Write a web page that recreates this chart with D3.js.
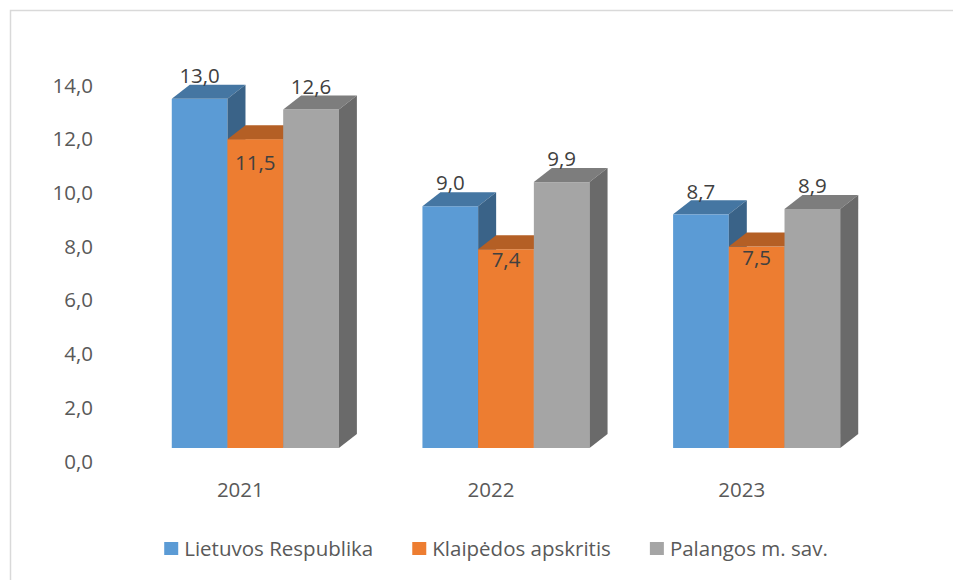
<!DOCTYPE html>
<html>
<head>
<meta charset="utf-8">
<script src="https://cdn.jsdelivr.net/npm/d3@7"></script>
<style>
  html, body { margin: 0; padding: 0; background: #fff; }
  svg { display: block; font-family: "Open Sans", Lato, sans-serif; }
</style>
</head>
<body>
<div class="bar-chart"></div>
<script>
var years = ['2021', '2022', '2023'];
var seriesNames = ['Lietuvos Respublika', 'Klaipėdos apskritis', 'Palangos m. sav.'];
var respublika = [13.0, 9.0, 8.7];
var apskritis = [11.5, 7.4, 7.5];
var palanga = [12.6, 9.9, 8.9];
var yTicks = [0, 2, 4, 6, 8, 10, 12, 14];
var colors = ['#5B9BD5', '#ED7D31', '#A5A5A5'];

(function() {

    var W = 953, H = 580;
    var depth = { x: 18, y: 14 };
    var fs = 20.5;
    var fmt = function(v) { return v.toFixed(1).replace('.', ','); };

    var svg = d3.select('.bar-chart')
        .append('svg')
        .attr('width', W)
        .attr('height', H);

    // chart border
    svg.append('rect')
        .attr('x', 10.5).attr('y', 10.5)
        .attr('width', W + 20).attr('height', H + 20)
        .attr('fill', 'none')
        .attr('stroke', '#d9d9d9')
        .attr('stroke-width', 1.5);

    var x = d3.scaleBand()
        .domain(years)
        .range([130, 882])
        .paddingInner(1 / 3)
        .paddingOuter(1 / 6);

    var xs = d3.scaleBand()
        .domain(seriesNames)
        .range([0, x.bandwidth()]);

    var y = d3.scaleLinear()
        .domain([0, 14])
        .range([448, 72]);

    function shade(c, k) {
        var r = d3.rgb(c);
        return d3.rgb(r.r * k, r.g * k, r.b * k).toString();
    }

    // y axis labels sit a bit below the front face scale (3D floor)
    var yAxis = svg.append('g')
        .attr('transform', 'translate(100,13.5)')
        .call(d3.axisLeft(y).tickValues(yTicks).tickFormat(fmt).tickSize(0).tickPadding(7));
    yAxis.select('.domain').remove();
    yAxis.selectAll('text')
        .attr('font-size', fs)
        .attr('font-family', '"Open Sans", Lato, sans-serif')
        .attr('fill', '#595959');

    var xAxis = svg.append('g')
        .attr('transform', 'translate(-15,482)')
        .call(d3.axisBottom(x).tickSize(0).tickPadding(0));
    xAxis.select('.domain').remove();
    xAxis.selectAll('text')
        .attr('font-size', fs)
        .attr('font-family', '"Open Sans", Lato, sans-serif')
        .attr('fill', '#595959');

    var data = [respublika, apskritis, palanga];
    var rows = [];
    years.forEach(function(yr, i) {
        seriesNames.forEach(function(s, j) {
            rows.push({ year: yr, series: s, si: j, value: data[j][i] });
        });
    });

    var bars = svg.selectAll('.bar')
        .data(rows)
        .enter()
        .append('g')
        .attr('class', 'bar');

    function geo(d) {
        var x0 = x(d.year) + xs(d.series);
        return { x0: x0, x1: x0 + xs.bandwidth(), top: y(d.value), bottom: y(0) };
    }

    // front face
    bars.append('rect')
        .attr('x', function(d) { return geo(d).x0; })
        .attr('y', function(d) { return geo(d).top; })
        .attr('width', xs.bandwidth())
        .attr('height', function(d) { return y(0) - y(d.value); })
        .attr('fill', function(d) { return colors[d.si]; });

    // top face
    bars.append('path')
        .attr('d', function(d) {
            var g = geo(d);
            return 'M' + g.x0 + ',' + g.top +
                'L' + (g.x0 + depth.x) + ',' + (g.top - depth.y) +
                'L' + (g.x1 + depth.x) + ',' + (g.top - depth.y) +
                'L' + g.x1 + ',' + g.top + 'Z';
        })
        .attr('fill', function(d) { return shade(colors[d.si], 0.76); });

    // side face
    bars.append('path')
        .attr('d', function(d) {
            var g = geo(d);
            return 'M' + g.x1 + ',' + g.top +
                'L' + (g.x1 + depth.x) + ',' + (g.top - depth.y) +
                'L' + (g.x1 + depth.x) + ',' + (g.bottom - depth.y) +
                'L' + g.x1 + ',' + g.bottom + 'Z';
        })
        .attr('fill', function(d) { return shade(colors[d.si], 0.64); });

    // value labels
    function labelDy(d) {
        if (d.si !== 1) return -23;
        return d.year === '2021' ? 24 : 11;
    }
    svg.selectAll('.val')
        .data(rows)
        .enter()
        .append('text')
        .attr('class', 'val')
        .attr('x', function(d) { var g = geo(d); return (g.x0 + g.x1) / 2; })
        .attr('y', function(d) { return y(d.value) + labelDy(d); })
        .attr('dy', '0.35em')
        .attr('text-anchor', 'middle')
        .attr('font-size', fs)
        .attr('fill', '#404040')
        .text(function(d) { return fmt(d.value); });

    // legend
    var legend = svg.append('g').attr('class', 'legend');
    var items = legend.selectAll('g')
        .data(seriesNames)
        .enter()
        .append('g');
    items.append('rect')
        .attr('width', 14).attr('height', 13)
        .attr('y', 542)
        .attr('fill', function(d, i) { return colors[i]; });
    items.append('text')
        .attr('x', 20)
        .attr('y', 555.5)
        .attr('font-size', fs)
        .attr('fill', '#595959')
        .text(function(d) { return d; });

    var widths = [];
    items.each(function() {
        widths.push(20 + d3.select(this).select('text').node().getComputedTextLength());
    });
    var gap = 39;
    var total = d3.sum(widths) + gap * (widths.length - 1);
    var pos = 496 - total / 2;
    items.attr('transform', function(d, i) {
        var p = pos;
        pos += widths[i] + gap;
        return 'translate(' + p + ',0)';
    });

})();
</script>
</body>
</html>
